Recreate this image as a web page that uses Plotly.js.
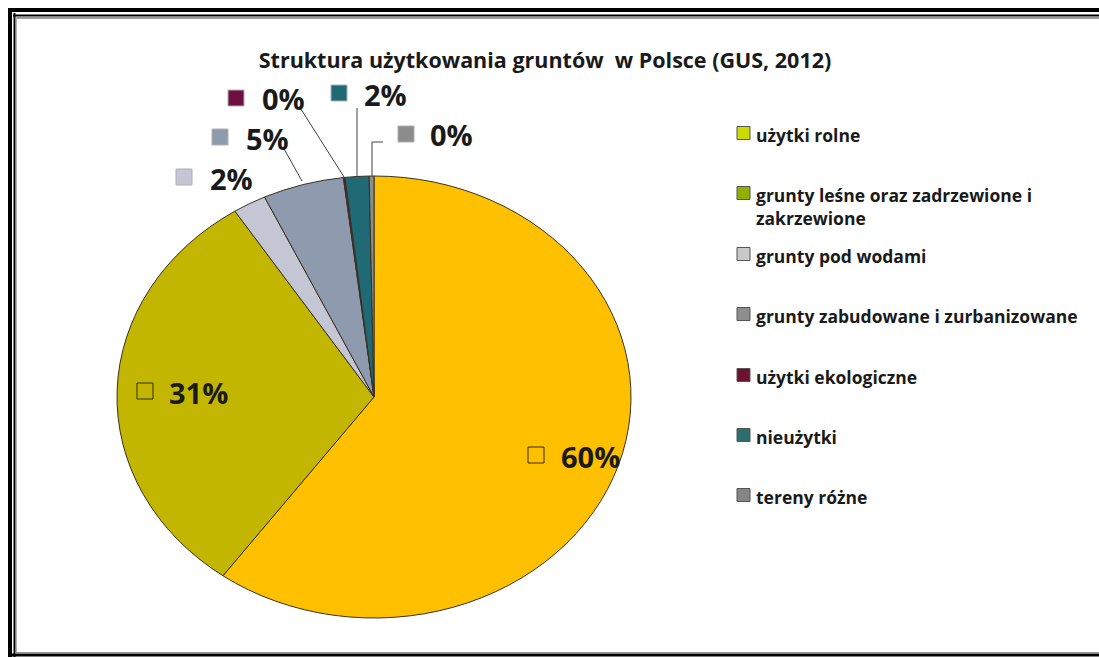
<!DOCTYPE html>
<html><head><meta charset="utf-8">
<script src="https://cdn.plot.ly/plotly-3.0.1.min.js"></script>
<style>html,body{margin:0;padding:0;background:#fff}#chart{width:1099px;height:657px}</style>
</head><body><div id="chart"></div>
<script>
// ---- data ----
const categories = ['użytki rolne', 'grunty leśne oraz zadrzewione i zakrzewione', 'grunty pod wodami', 'grunty zabudowane i zurbanizowane', 'użytki ekologiczne', 'nieużytki', 'tereny różne'];
const legendLabels = ['użytki rolne', 'grunty leśne oraz zadrzewione i<br>zakrzewione', 'grunty pod wodami', 'grunty zabudowane i zurbanizowane', 'użytki ekologiczne', 'nieużytki', 'tereny różne'];
const shares = [60.0, 30.9, 2.1, 5.1, 0.1, 1.5, 0.3];
const sliceColors = ['#FFC000', '#C2B600', '#C4C7D3', '#8E9BAE', '#6E1040', '#1F6A74', '#8C8C8C'];
const legendColors = ['#CCDA00', '#8FB000', '#C8C8C8', '#8E8E8E', '#6E1030', '#2A6E6E', '#858585'];
const titleText = 'Struktura użytkowania gruntów  w Polsce (GUS, 2012)';

// ---- layout helpers (pixel -> paper) ----
const W = 1099, H = 657;
const px = x => x / W, py = y => 1 - y / H;
const CX = 374, CY = 397, R = 221, SX = 257 / 221;

const total = shares.reduce((a, b) => a + b, 0);
const pctText = shares.map(v => Math.round(v / total * 100) + '%');

// label placement: [squareLeft, centerY, textLeft, inside]
const labelPos = [
  [528, 455, 559, true],
  [137, 391, 167, true],
  [176, 177, 208, false],
  [212, 137, 244, false],
  [228, 98, 260, false],
  [331, 93, 362, false],
  [398, 134, 428, false]
];
// legend rows (first-line centre y)
const legendY = [133, 193, 254, 314, 375, 435, 495];

const FONT = 'Open Sans, DejaVu Sans, sans-serif';

const trace = {
  type: 'pie',
  labels: categories,
  values: shares,
  sort: false,
  direction: 'clockwise',
  rotation: 0,
  textinfo: 'none',
  hoverinfo: 'none',
  showlegend: false,
  marker: {colors: sliceColors, line: {color: '#3a3020', width: 1}},
  domain: {x: [px(CX - R), px(CX + R)], y: [py(CY + R), py(CY - R)]}
};

const annotations = [], shapes = [];
labelPos.forEach((p, i) => {
  const [sx, cy, tx, inside] = p;
  const s = 16;
  shapes.push({type: 'rect', xref: 'paper', yref: 'paper',
    x0: px(sx), x1: px(sx + s), y0: py(cy + s / 2), y1: py(cy - s / 2),
    fillcolor: inside ? 'rgba(0,0,0,0)' : sliceColors[i],
    line: {color: inside ? '#3a2a00' : '#b0b0b0', width: 1}});
  annotations.push({xref: 'paper', yref: 'paper', x: px(tx), y: py(cy + 1), xanchor: 'left', yanchor: 'middle',
    showarrow: false, text: pctText[i],
    font: {family: FONT, size: 29, weight: 700, color: '#1a1a1a'}});
});

// legend (swatch + label)
legendLabels.forEach((lab, i) => {
  const y = legendY[i];
  shapes.push({type: 'rect', xref: 'paper', yref: 'paper',
    x0: px(737), x1: px(750), y0: py(y + 6.5), y1: py(y - 6.5),
    fillcolor: legendColors[i], line: {color: '#555', width: 1}});
  annotations.push({xref: 'paper', yref: 'paper', x: px(754), y: py(y - 12), xanchor: 'left', yanchor: 'top',
    align: 'left', showarrow: false, text: lab,
    font: {family: FONT, size: 17.5, weight: 700, color: '#1a1a1a'}});
});

// leader lines
const leader = (pts) => shapes.push({type: 'path', xref: 'paper', yref: 'paper',
  path: pts.map((q, k) => (k ? 'L' : 'M') + px(q[0]) + ',' + py(q[1])).join(' '),
  line: {color: '#404040', width: 1}});
leader([[283, 147], [302, 181]]);
leader([[299, 106], [344, 177]]);
leader([[357, 108], [357, 176]]);
leader([[383, 142], [372, 142], [372, 176]]);

// frame
const hl = (y, x0, x1, w, c) => shapes.push({type: 'line', xref: 'paper', yref: 'paper', x0: px(x0), x1: px(x1), y0: py(y), y1: py(y), line: {color: c, width: w}});
const vl = (x, y0, y1, w, c) => shapes.push({type: 'line', xref: 'paper', yref: 'paper', x0: px(x), x1: px(x), y0: py(y0), y1: py(y1), line: {color: c, width: w}});
hl(10, 8, 1099, 4, '#000');
vl(10, 8, 657, 4, '#000');
hl(15.5, 13, 1099, 2, '#000');
vl(14.5, 13, 657, 2, '#000');
hl(18, 16, 1099, 2, '#9a9a9a');
vl(16.5, 17, 652, 1, '#b0b0b0');
hl(655, 8, 1099, 3, '#000');
hl(652.5, 15, 1099, 1, '#9a9a9a');

const layout = {
  width: W, height: H,
  margin: {l: 0, r: 0, t: 0, b: 0},
  paper_bgcolor: '#ffffff',
  font: {family: FONT, color: '#1a1a1a'},
  title: {text: titleText, x: px(545), xanchor: 'center', y: py(60), yanchor: 'middle', yref: 'paper',
    font: {family: FONT, size: 21.5, weight: 700, color: '#1a1a1a'}},
  showlegend: false,
  annotations: annotations,
  shapes: shapes
};

Plotly.newPlot('chart', [trace], layout, {displayModeBar: false, staticPlot: true}).then(gd => {
  gd.querySelectorAll('.pielayer g.trace').forEach(g => {
    g.setAttribute('transform', `translate(${CX},0) scale(${SX},1) translate(${-CX},0)`);
  });
  gd.querySelectorAll('.pielayer path.surface').forEach(p => p.setAttribute('vector-effect', 'non-scaling-stroke'));
});
</script></body></html>
